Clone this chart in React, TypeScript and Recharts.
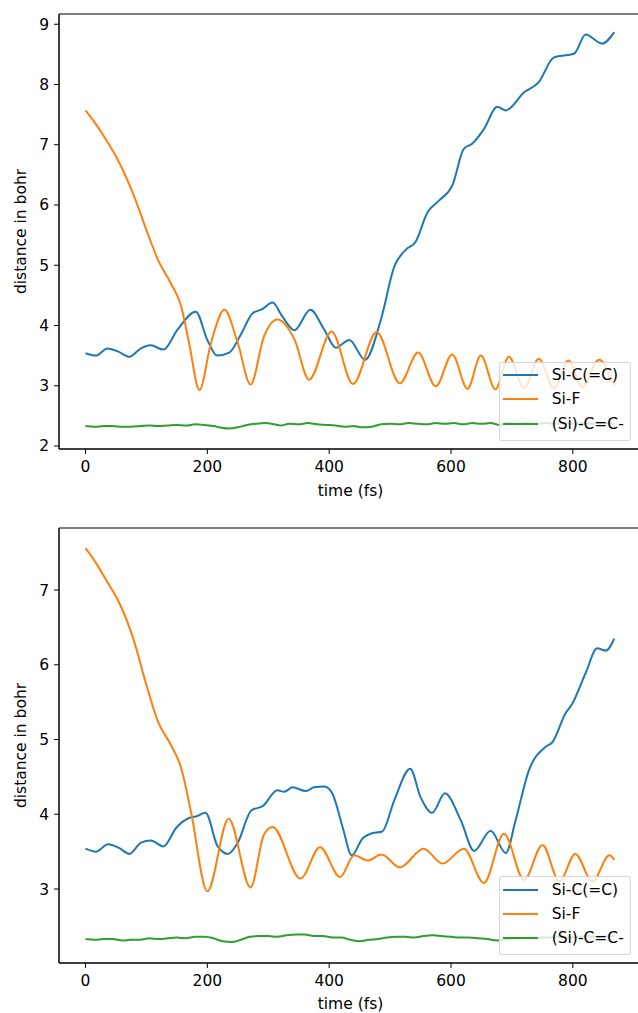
import { LineChart, Line, XAxis, YAxis, ReferenceArea, Legend } from 'recharts'

const xTicks = [0, 200, 400, 600, 800]
const topYTicks = [2, 3, 4, 5, 6, 7, 8, 9]
const bottomYTicks = [3, 4, 5, 6, 7]
const seriesNames = ['Si-C(=C)', 'Si-F', '(Si)-C=C-']
const seriesColors = ['#1f77b4', '#ff7f0e', '#2ca02c']

// [time fs, distance bohr]
const topSiC: [number, number][] = [
  [0, 3.54], [17, 3.5], [36, 3.62], [53, 3.57], [72, 3.48], [91, 3.62], [107, 3.67], [128, 3.6],
  [151, 3.93], [181, 4.23], [200, 3.76], [216, 3.5], [236, 3.55], [255, 3.85], [274, 4.2], [290, 4.27],
  [307, 4.38], [323, 4.15], [343, 3.92], [369, 4.26], [392, 3.93], [411, 3.63], [433, 3.76], [459, 3.43],
  [485, 4.1], [507, 4.98], [526, 5.26], [542, 5.39], [561, 5.87], [581, 6.08], [602, 6.32], [621, 6.93],
  [635, 7.02], [654, 7.26], [676, 7.63], [690, 7.57], [720, 7.87], [744, 8.04], [769, 8.45], [802, 8.51],
  [821, 8.83], [848, 8.68], [868, 8.87],
]
const topSiF: [number, number][] = [
  [0, 7.57], [15, 7.37], [37, 7.03], [53, 6.75], [80, 6.14], [102, 5.53], [119, 5.09], [140, 4.7],
  [157, 4.32], [170, 3.71], [187, 2.93], [206, 3.71], [228, 4.26], [250, 3.71], [271, 3.02], [293, 3.82],
  [315, 4.1], [343, 3.77], [367, 3.1], [404, 3.9], [439, 3.03], [478, 3.89], [516, 3.04], [546, 3.55],
  [575, 2.99], [602, 3.52], [627, 2.95], [649, 3.5], [673, 2.94], [695, 3.48], [720, 2.96], [744, 3.45],
  [769, 2.96], [793, 3.42], [815, 2.98], [843, 3.43], [868, 3.0],
]
const topCC: [number, number][] = [
  [0, 2.33], [15, 2.32], [30, 2.33], [45, 2.33], [60, 2.32], [75, 2.32], [90, 2.33], [105, 2.34],
  [120, 2.33], [135, 2.34], [150, 2.35], [165, 2.34], [180, 2.36], [195, 2.35], [210, 2.33], [225, 2.3],
  [235, 2.29], [250, 2.31], [265, 2.35], [280, 2.37], [295, 2.38], [310, 2.36], [320, 2.34], [335, 2.37],
  [350, 2.36], [365, 2.38], [380, 2.36], [395, 2.35], [410, 2.34], [425, 2.32], [440, 2.33], [455, 2.31],
  [470, 2.32], [485, 2.36], [500, 2.37], [515, 2.36], [530, 2.38], [545, 2.37], [560, 2.36], [575, 2.38],
  [590, 2.37], [605, 2.38], [620, 2.36], [635, 2.38], [650, 2.37], [665, 2.38], [680, 2.35], [695, 2.38],
  [710, 2.37], [725, 2.38], [740, 2.37], [755, 2.38], [770, 2.37], [785, 2.38], [800, 2.37], [815, 2.38],
  [830, 2.37], [845, 2.38], [868, 2.37],
]

const botSiC: [number, number][] = [
  [0, 3.54], [17, 3.5], [37, 3.6], [55, 3.55], [72, 3.47], [91, 3.62], [107, 3.65], [128, 3.57],
  [149, 3.82], [170, 3.95], [181, 3.97], [197, 4.02], [217, 3.57], [234, 3.47], [250, 3.62], [272, 4.05],
  [291, 4.11], [315, 4.32], [326, 4.3], [340, 4.36], [362, 4.31], [375, 4.36], [392, 4.37], [405, 4.28],
  [422, 3.83], [437, 3.45], [455, 3.68], [468, 3.74], [487, 3.77], [507, 4.19], [533, 4.61], [550, 4.23],
  [569, 4.02], [590, 4.28], [616, 3.92], [638, 3.51], [665, 3.78], [690, 3.48], [706, 3.92], [728, 4.59],
  [755, 4.9], [766, 4.96], [788, 5.35], [799, 5.48], [821, 5.89], [840, 6.22], [854, 6.19], [868, 6.35],
]
const botSiF: [number, number][] = [
  [0, 7.56], [15, 7.39], [37, 7.09], [53, 6.87], [80, 6.31], [100, 5.73], [119, 5.24], [140, 4.93],
  [157, 4.62], [173, 4.04], [200, 2.97], [235, 3.94], [271, 3.02], [293, 3.73], [307, 3.83], [353, 3.14],
  [385, 3.56], [418, 3.16], [441, 3.45], [463, 3.38], [486, 3.46], [516, 3.29], [555, 3.54], [586, 3.34],
  [621, 3.54], [654, 3.08], [687, 3.74], [720, 3.12], [750, 3.59], [778, 3.1], [804, 3.47], [832, 3.1],
  [860, 3.45], [868, 3.39],
]
const botCC: [number, number][] = [
  [0, 2.33], [15, 2.32], [30, 2.33], [45, 2.33], [60, 2.31], [75, 2.32], [90, 2.32], [105, 2.34],
  [120, 2.33], [135, 2.34], [150, 2.35], [165, 2.34], [180, 2.36], [195, 2.36], [210, 2.34], [225, 2.3],
  [240, 2.29], [255, 2.32], [270, 2.36], [285, 2.37], [300, 2.37], [315, 2.36], [330, 2.38], [345, 2.39],
  [360, 2.39], [375, 2.37], [390, 2.37], [405, 2.35], [420, 2.35], [435, 2.32], [450, 2.3], [465, 2.32],
  [480, 2.33], [495, 2.35], [510, 2.36], [525, 2.36], [540, 2.35], [555, 2.37], [570, 2.38], [585, 2.37],
  [600, 2.36], [615, 2.35], [630, 2.35], [645, 2.34], [660, 2.33], [675, 2.31], [690, 2.33], [705, 2.34],
  [720, 2.35], [735, 2.34], [750, 2.35], [765, 2.35], [780, 2.36], [795, 2.35], [810, 2.36], [825, 2.37],
  [840, 2.36], [868, 2.37],
]

const FS = 15.5
const X_DOMAIN: [number, number] = [-43.5, 913.5]
const toPts = (arr: [number, number][]) => arr.map(([t, v]) => ({ t, v }))

function LegendBox({ rows }: { rows: number[] }) {
  return (
    <div
      style={{
        position: 'relative', boxSizing: 'border-box', width: 132, height: 79,
        background: 'rgba(255,255,255,0.8)', border: '1px solid rgba(204,204,204,0.8)',
        borderRadius: 3, fontSize: FS, color: '#000', fontFamily: '"DejaVu Sans"',
      }}
    >
      {seriesNames.map((n, i) => (
        <div key={n} style={{ position: 'absolute', left: 0, top: rows[i] - 10, height: 20, display: 'flex', alignItems: 'center', whiteSpace: 'nowrap' }}>
          <span style={{ display: 'inline-block', marginLeft: 2.7, width: 35.6, height: 2, background: seriesColors[i] }} />
          <span style={{ marginLeft: 13.4 }}>{n}</span>
        </div>
      ))}
    </div>
  )
}

function Panel({ series, yDomain, yTicks, top, height, marginTop, xHeight, legendTop, legendRows }: {
  series: [number, number][][]; yDomain: [number, number]; yTicks: number[]; top: number; height: number
  marginTop: number; xHeight: number; legendTop: number; legendRows: number[]
}) {
  const midY = marginTop + (height - marginTop - xHeight) / 2
  return (
    <div style={{ position: 'absolute', left: 0, top }}>
      <LineChart width={700} height={height} margin={{ top: marginTop, right: 58, left: 0, bottom: 0 }}>
        <XAxis
          dataKey="t" type="number" domain={X_DOMAIN} ticks={xTicks} allowDataOverflow interval={0}
          height={xHeight} tickSize={5} tickMargin={7} stroke="#000" tick={{ fontSize: FS, fill: '#000' }}
          label={{ value: 'time (fs)', position: 'insideBottom', offset: 4, fontSize: FS, fill: '#000' }}
        />
        <YAxis
          type="number" domain={yDomain} ticks={yTicks} allowDataOverflow interval={0} width={59}
          tickSize={5} tickMargin={5} stroke="#000" tick={{ fontSize: FS, fill: '#000' }}
          label={{
            content: () => (
              <text x={26} y={midY} transform={`rotate(-90 26 ${midY})`} textAnchor="middle" fontSize={FS} fill="#000">
                distance in bohr
              </text>
            ),
          }}
        />
        <ReferenceArea x1={X_DOMAIN[0]} x2={X_DOMAIN[1]} y1={yDomain[0]} y2={yDomain[1]} fill="none" stroke="#000" strokeWidth={1} />
        {series.map((s, i) => (
          <Line
            key={seriesNames[i]} name={seriesNames[i]} data={toPts(s)} dataKey="v" type="monotone"
            stroke={seriesColors[i]} strokeWidth={2} dot={false} isAnimationActive={false}
          />
        ))}
        <Legend
          layout="vertical" align="center" verticalAlign="middle"
          wrapperStyle={{ left: 499, top: legendTop, width: 132, height: 79 }}
          content={() => <LegendBox rows={legendRows} />}
        />
      </LineChart>
    </div>
  )
}

export default function App() {
  return (
    <div style={{ position: 'absolute', left: 0, top: 0, width: 638, height: 1013, overflow: 'hidden', background: '#fff', fontFamily: '"DejaVu Sans"' }}>
      <Panel
        series={[topSiC, topSiF, topCC]} yDomain={[1.95, 9.17]} yTicks={topYTicks}
        top={0} height={500} marginTop={14} xHeight={51} legendTop={361.7} legendRows={[12.3, 36.6, 61.3]}
      />
      <Panel
        series={[botSiC, botSiF, botCC]} yDomain={[2.01, 7.83]} yTicks={bottomYTicks}
        top={500} height={513} marginTop={28} xHeight={50} legendTop={376} legendRows={[13, 36.5, 61]}
      />
    </div>
  )
}
